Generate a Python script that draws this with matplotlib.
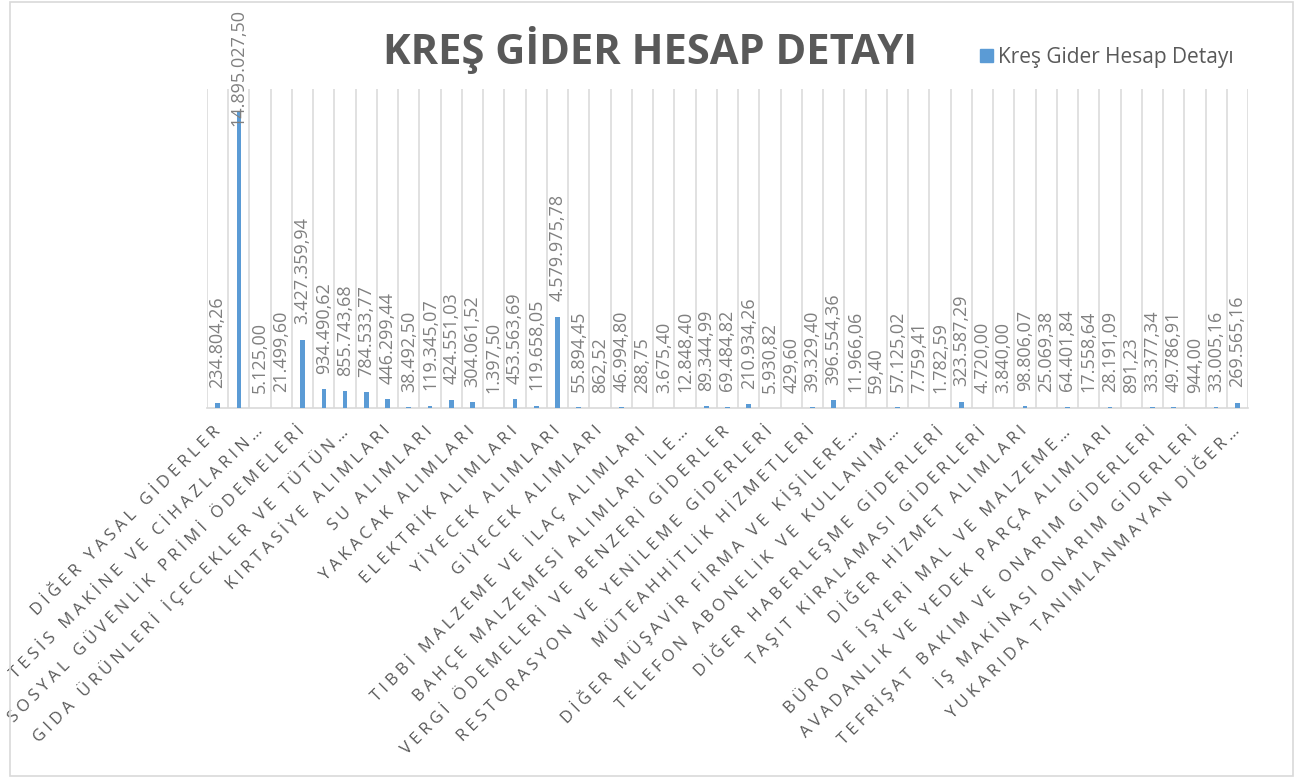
import matplotlib
matplotlib.use('Agg')
import matplotlib.pyplot as plt
from matplotlib.patches import Rectangle, Patch

plt.rcParams['font.family'] = ['Open Sans', 'DejaVu Sans']

# every other category is labelled on the axis (as in the original chart)
tick_labels = [
    'DİĞER YASAL GİDERLER',
    'TESİS MAKİNE VE CİHAZLARIN …',
    'SOSYAL GÜVENLİK PRİMİ ÖDEMELERİ',
    'GIDA ÜRÜNLERİ İÇECEKLER VE TÜTÜN …',
    'KIRTASİYE ALIMLARI',
    'SU ALIMLARI',
    'YAKACAK ALIMLARI',
    'ELEKTRİK ALIMLARI',
    'YİYECEK ALIMLARI',
    'GİYECEK ALIMLARI',
    'TIBBİ MALZEME VE İLAÇ ALIMLARI',
    'BAHÇE MALZEMESİ ALIMLARI İLE …',
    'VERGİ ÖDEMELERİ VE BENZERİ GİDERLER',
    'RESTORASYON VE YENİLEME GİDERLERİ',
    'MÜTEAHHİTLİK HİZMETLERİ',
    'DİĞER MÜŞAVİR FİRMA VE KİŞİLERE …',
    'TELEFON ABONELİK VE KULLANIM …',
    'DİĞER HABERLEŞME GİDERLERİ',
    'TAŞIT KİRALAMASI GİDERLERİ',
    'DİĞER HİZMET ALIMLARI',
    'BÜRO VE İŞYERİ MAL VE MALZEME …',
    'AVADANLIK VE YEDEK PARÇA ALIMLARI',
    'TEFRİŞAT BAKIM VE ONARIM GİDERLERİ',
    'İŞ MAKİNASI ONARIM GİDERLERİ',
    'YUKARIDA TANIMLANMAYAN DİĞER …',
]

values = [
    234804.26, 14895027.50, 5125.00, 21499.60, 3427359.94, 934490.62,
    855743.68, 784533.77, 446299.44, 38492.50, 119345.07, 424551.03,
    304061.52, 1397.50, 453563.69, 119658.05, 4579975.78, 55894.45,
    862.52, 46994.80, 288.75, 3675.40, 12848.40, 89344.99,
    69484.82, 210934.26, 5930.82, 429.60, 39329.40, 396554.36,
    11966.06, 59.40, 57125.02, 7759.41, 1782.59, 323587.29,
    4720.00, 3840.00, 98806.07, 25069.38, 64401.84, 17558.64,
    28191.09, 891.23, 33377.34, 49786.91, 944.00, 33005.16,
    269565.16,
]

title = 'KREŞ GİDER HESAP DETAYI'
series_name = 'Kreş Gider Hesap Detayı'

bar_color = '#5B9BD5'
grid_color = '#D9D9D9'
text_color = '#595959'
label_color = '#808080'


def tr_fmt(v):
    s = '{:,.2f}'.format(v)
    return s.replace(',', '#').replace('.', ',').replace('#', '.')


def spaced(s):
    # Excel draws these axis labels with extra letter spacing
    tail = ''
    if s.endswith(' …'):
        s, tail = s[:-2], '\u2005…'
    return '\u2005'.join(s) + tail


W, H, DPI = 1307, 778, 100
fig = plt.figure(figsize=(W / DPI, H / DPI), dpi=DPI)
fig.patches.append(Rectangle((10 / W, 2 / H), 1283 / W, 774 / H,
                             transform=fig.transFigure, fill=False,
                             edgecolor=grid_color, linewidth=1.2))

ax = fig.add_axes([207 / W, 1 - 408 / H, 1041 / W, 319 / H])
x = list(range(len(values)))
ax.bar(x, values, width=0.22, color=bar_color, zorder=3)
ax.set_xlim(-0.5, len(values) - 0.5)
ax.set_ylim(0, 16000000)

# vertical category gridlines
ax.set_xticks([i - 0.5 for i in range(len(values) + 1)], minor=True)
ax.grid(which='minor', axis='x', color=grid_color, linewidth=1.1)
ax.tick_params(which='minor', length=0)

ax.set_xticks(x[::2])
ax.set_xticklabels([spaced(t) for t in tick_labels], rotation=45,
                   ha='right', va='center', rotation_mode='anchor',
                   fontsize=12, color=text_color)
ax.tick_params(axis='x', which='major', length=0, pad=15)
ax.set_yticks([])
for side in ['left', 'right', 'top']:
    ax.spines[side].set_visible(False)
ax.spines['bottom'].set_color(grid_color)
ax.spines['bottom'].set_linewidth(1.2)

# data labels
anns = []
for xi, v in zip(x, values):
    a = ax.annotate(tr_fmt(v), (xi, v), xytext=(0, 11),
                    textcoords='offset points', rotation=90,
                    ha='center', va='bottom', fontsize=13,
                    color=label_color, annotation_clip=False)
    anns.append(a)

fig.text(0.497, 1 - 50 / H, title, ha='center', va='center',
         fontsize=30, fontweight='bold', color=text_color)

fig.legend(handles=[Patch(color=bar_color)], labels=[series_name],
           loc='center left', bbox_to_anchor=(980 / W, 1 - 57 / H),
           frameon=False, fontsize=15, labelcolor=text_color,
           handlelength=0.6, handleheight=0.6, handletextpad=0.25,
           borderpad=0, borderaxespad=0)

# keep labels inside the chart area, as Excel does
fig.canvas.draw()
r = fig.canvas.get_renderer()
for a in anns:
    bb = a.get_window_extent(r)
    limit = H - 9
    if bb.y1 > limit:
        dx, dy = a.xyann
        a.xyann = (dx, dy - (bb.y1 - limit) * 72 / DPI)

fig.savefig('out.png', dpi=DPI)
